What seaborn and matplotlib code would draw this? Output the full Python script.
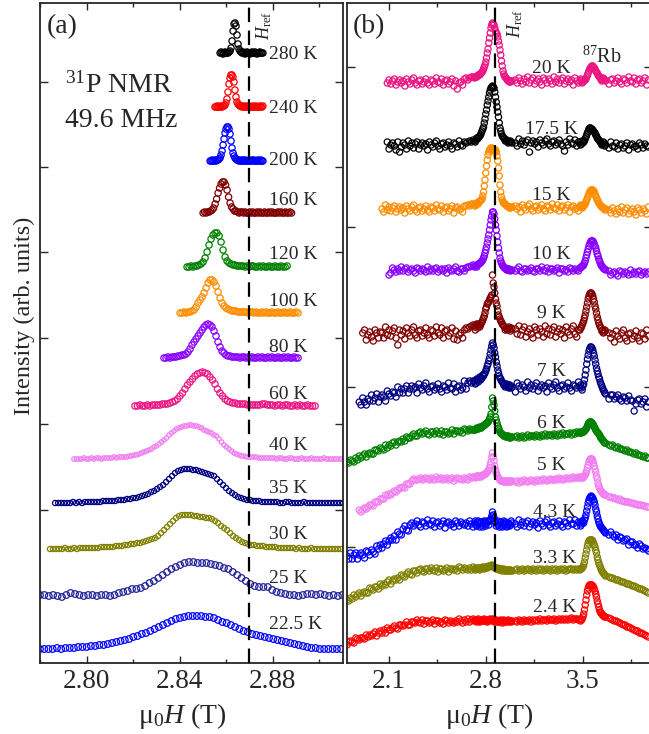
import numpy as np
import matplotlib
matplotlib.use("Agg")
import matplotlib.pyplot as plt
from matplotlib.ticker import MultipleLocator, FormatStrFormatter, FixedLocator
import seaborn as sns

# ---------------------------------------------------------------- panel (a)
# 31P NMR spectra, 49.6 MHz; field sweeps (T) and intensities (arb. units,
# baseline-subtracted).
temps_a = ["280 K", "240 K", "200 K", "160 K", "120 K", "100 K", "80 K",
           "60 K", "40 K", "35 K", "30 K", "25 K", "22.5 K"]
colors_a = ["#000000", "#FF0000", "#0000FF", "#800000", "#008000", "#FF8C00",
            "#8A00FF", "#EC1483", "#F27FF2", "#000080", "#808000", "#22229A",
            "#0000FF"]
field_start_a = [2.8574, 2.8552, 2.8531, 2.8501, 2.8432, 2.8402, 2.8333,
                 2.8208, 2.7946, 2.7865, 2.7843, 2.7800, 2.7800]
field_stop_a = [2.8758, 2.8758, 2.8758, 2.8881, 2.8862, 2.8909, 2.8909,
                2.8982, 2.9096, 2.9102, 2.9094, 2.9099, 2.9094]

a_280 = [0, 1, 0, -1, 0, 1, 0, 0, 0, 1, 2, 5, 12, 22, 29, 30, 27, 18, 9, 4,
         2, 1, 0, 1, 0, -1, 0, 1, 0, 0, -1, 0, 1, 0, 0, 1, 0, -1, 0, 0, 1,
         0, 0, 0]
a_240 = [0, 0, 1, 0, 0, 1, 0, 0, 1, 1, 2, 4, 8, 15, 23, 29, 32, 32, 30, 25,
         17, 10, 5, 3, 2, 1, 1, 0, 1, 0, 0, 1, 0, 0, 1, 0, 0, 0, 1, 0, 0, 1,
         0, 0, 0, 1, 0, 0, 1]
a_200 = [0, 0, 1, 0, 0, 1, 0, 1, 1, 2, 3, 6, 10, 16, 22, 28, 32, 34, 34, 32,
         27, 20, 13, 8, 5, 3, 2, 1, 1, 0, 1, 0, 0, 1, 0, 1, 0, 0, 0, 1, 0, 0,
         1, 0, 1, 0, 0, 0, 1, 0, 0, 1, 0, 0]
a_160 = [0, 1, 0, 1, 1, 2, 3, 5, 9, 14, 20, 25, 29, 31, 31, 28, 23, 16, 10, 6,
         4, 2, 2, 1, 0, 1, 1, 0, 1, 0, 0, 1, 0, 1, 0, 0, 1, 0, 1, 0, 0, 1, 0,
         0, 1, 0, 1, 0, 0, 0, 1, 0, 1, 0, 0, 1, 0, 0, 1, 0]
a_120 = [0, 0, 1, 0, 1, 1, 2, 3, 5, 9, 15, 22, 28, 32, 34, 34, 31, 25, 17, 10,
         6, 4, 3, 2, 2, 1, 1, 1, 1, 0, 1, 0, 1, 1, 0, 0, 1, 0, 1, 0, 0, 1, 0,
         0, 1, 0, 0, 1, 0, 0, 1]
a_100 = [0, 0, 1, 0, 1, 1, 2, 3, 6, 10, 13, 16, 20, 25, 30, 33, 33, 31, 27,
         21, 15, 10, 7, 5, 4, 3, 2, 2, 2, 1, 1, 1, 1, 1, 0, 1, 1, 0, 1, 0, 0,
         1, 0, 1, 0, 0, 1, 0, 0, 1, 0, 0, 1, 0, 0, 1, 0, 0, 1, 0]
a_80 = [0, 0, 1, 0, 1, 1, 1, 2, 2, 3, 3, 4, 6, 9, 13, 16, 19, 22, 25, 28, 31,
        33, 34, 33, 31, 27, 22, 16, 11, 7, 5, 3, 2, 2, 1, 1, 1, 1, 0, 1, 1, 0,
        1, 0, 1, 0, 0, 1, 0, 1, 0, 0, 1, 0, 1, 0, 0, 1, 0, 0, 1, 0, 1, 0, 0,
        1, 0, 0]
a_60 = [0, 0, 1, 0, 0, 1, 0, 1, 1, 1, 1, 2, 2, 2, 3, 4, 5, 7, 10, 13, 17, 21,
        24, 27, 30, 32, 33, 34, 33, 32, 29, 26, 22, 17, 13, 10, 7, 5, 4, 3, 3,
        2, 2, 2, 2, 1, 1, 1, 1, 1, 1, 2, 2, 1, 1, 1, 0, 1, 1, 0, 1, 1, 0, 0,
        1, 0, 1, 0, 0, 1, 0, 0, 0]
a_40 = [0, 0, 0, 0, 1, 0, 0, 1, 0, 1, 1, 0, 1, 1, 1, 1, 2, 1, 2, 2,
        2, 2, 3, 3, 4, 4, 5, 6, 7, 8, 9, 10, 12, 13, 15, 17, 19, 21, 24, 26,
        28, 30, 31, 32, 33, 33, 34, 34, 33, 33, 32, 31, 29, 28, 27, 26, 24,
        23, 20, 17, 14, 12, 10, 8, 6, 5, 4, 3, 3, 2, 2,
        2, 2, 2, 1, 1, 1, 1, 1, 1, 1, 0, 1, 1, 0, 0, 1, 1, 0, 0, 0, 1, 0, 0,
        0, 1, 0, 0, 0, 0, 1, 0, 0, 0, 0, 0, 0, 0]
a_35 = [0, 0, 0, 0, 0, 0, 1, 0, 1, 0, 1, 1, 1, 1, 1, 1, 2, 2, 2, 2,
        2, 3, 3, 3, 4, 4, 5, 5, 6, 7, 8, 9, 11, 12, 14, 16, 18, 21, 24, 27,
        30, 32, 33, 34, 34, 34, 33, 33, 32, 31, 30, 29, 28, 27, 24, 21, 18,
        15, 12, 10, 8, 6, 5, 4, 3, 3,
        2, 2, 2, 1, 1, 1, 1, 1, 1, 0, 0, 1, 1, 0, 0, 0, 0, 1, 0, 0, 0, 0, 0,
        0, 0, 0, 0, 0, 0, 0, 0]
a_30 = [0, 0, 0, 0, 0, 1, 0, 0, 1, 0, 1, 1, 1, 1, 1, 1, 1, 2, 2, 2,
        2, 2, 3, 3, 3, 4, 4, 5, 5, 6, 6, 7, 8, 9, 10, 11, 13, 16, 19, 22, 25,
        28, 31, 33, 34, 34, 34, 34, 33, 33, 32, 32, 31, 31, 30, 28, 26, 23,
        21, 19, 16, 13, 11, 9, 7, 6, 5, 4,
        4, 3, 3, 3, 2, 2, 2, 2, 1, 1, 1, 1, 1, 1, 0, 1, 0, 0, 0, 1, 0, 0, 0,
        0, 0, 0, 0, 0, 0, 0]
a_25 = [1, 1, 0, 1, 0, -1, 1, 3, 2, 1, 0, 1, 1, 0, 1, 1, 0, 1, 3, 4, 5, 7, 7,
        8, 10, 13, 15, 18, 21, 24, 27, 29, 31, 33, 34, 34, 33, 33, 33, 32, 31,
        30, 28, 27, 24, 21, 18, 15, 12, 10, 9, 9, 9, 6, 4, 3, 2, 1, 1, 0, 1,
        2, 2, 1, 2, 1, 0, 1, 0, 1]
a_22 = [0, 0, 0, 0, 1, 0, 1, 1, 1, 2, 2, 2, 3, 3, 4, 4, 5, 6, 7, 8, 9, 10, 12,
        13, 15, 16, 18, 20, 22, 24, 26, 28, 30, 31, 32, 33, 33, 33, 33, 32, 32,
        31, 29, 27, 26, 24, 22, 20, 18, 17, 15, 14, 13, 12, 11, 10, 9, 8, 7,
        6, 5, 4, 3, 2, 1, 1, 0, 0, 0, 0, 0, 0]
spectra_a = [a_280, a_240, a_200, a_160, a_120, a_100, a_80, a_60, a_40,
             a_35, a_30, a_25, a_22]

# ---------------------------------------------------------------- panel (b)
temps_b = ["20 K", "17.5 K", "15 K", "10 K", "9 K", "7 K", "6 K", "5 K",
           "4.3 K", "3.3 K", "2.4 K"]
colors_b = ["#EC1483", "#000000", "#FF8C00", "#8A00FF", "#800000", "#000080",
            "#008000", "#F27FF2", "#0000FF", "#808000", "#FF0000"]
# field sweep in five stretches (start, stop, points); the first stretch
# is where the sweeps begin, so shorter sweeps use only its last points
sweep_b = [(1.800, 2.710, 73), (2.720, 2.990, 51), (3.015, 3.470, 37),
           (3.480, 3.665, 35), (3.690, 3.975, 23)]

b_20 = [[0, 3, -1, 2, 4, -2, 1, 3, 0, 2, -3, 4, 1, -1, 3, 5, 0, -2, 2, 3, -1,
         1, 4, 0, -2, 3, 2, -1, 5, 1, 0, 4, -2, 2, 3, -1, 1, 4, -3, 2, -6, 0,
         1, -2, 4, 5, 3, 5, 6, 6],
        [5, 6, 6, 6, 7, 8, 8, 8, 9, 10, 11, 12, 14, 16, 18, 21, 25, 30, 34, 40,
         45, 50, 55, 58, 60, 59, 58, 55, 52, 50, 49, 46, 42, 38, 33, 28, 22,
         17, 12, 9, 7, 6, 5, 4, 3, 2, 2, 1, 1, 2, 2],
        [3, 0, 5, 2, -1, 4, 1, 6, 0, 3, 5, -1, 2, 4, 1, -2, 5, 3, 0, 4, 2, -1,
         6, 1, 4, 0, 3, 5, -1, 2, 4, 1, 3, -2, 5, 2, 0],
        [2, 4, 3, 0, 1, 2, 3, 3, 4, 6, 8, 10, 12, 14, 15, 16, 17, 17, 16, 15,
         14, 12, 11, 10, 8, 7, 6, 5, 4, 2, 3, 5, 4, 3, 2],
        [-1, 3, 4, 0, 2, 5, 1, -1, 4, 3, 0, 6, 2, 1, 5, -1, 3, 4, 0, 2, 5, -2,
         3]]
b_17 = [[5, -2, 2, 4, 1, -3, 5, -5, 0, 4, 2, -2, 6, 1, 4, -1, 3, 5, -2, 2, 4,
         1, 3, -3, 5, 2, 0, 4, 6, 1, -2, 3, 4, 0, 2, 5, 1, -2, 4, 3, 0, 6, 2,
         1, 5, 4, 5, 6, 5, 7],
        [6, 5, 7, 9, 8, 9, 10, 11, 12, 14, 16, 18, 20, 24, 28, 33, 37, 42, 46,
         50, 54, 57, 59, 60, 61, 60, 59, 55, 50, 45, 40, 35, 30, 24, 19, 16,
         13, 11, 10, 9, 8, 6, 7, 7, 6, 4, 5, 5, 6, 5, 4],
        [4, 1, 8, 3, 6, 2, 5, 7, -5, 4, 6, 3, 5, 0, 7, 4, 2, 6, 8, 3, 1, 5, 6,
         2, 4, 7, 3, 1, -4, 5, 2, 8, 4, 3, 7, 1, 5],
        [5, 2, 3, 6, 4, 5, 6, 8, 10, 12, 14, 16, 18, 19, 19, 18, 18, 17, 16,
         15, 14, 12, 11, 9, 8, 7, 6, 5, 4, 2, 3, 5, 4, 1, 2],
        [-1, 5, 1, 0, 4, -2, 2, 3, -1, 1, 4, -3, 2, 3, 0, 1, -2, 4, 2, -1, 3,
         1, 0]]
b_15 = [[1, -2, 5, 0, 3, -1, 2, 4, -2, 1, 3, 0, 2, -3, 4, 1, -1, 3, 5, 0, -2,
         2, 3, -1, 1, 4, 0, -2, 3, 2, -1, 5, 1, 0, 4, -2, 2, 3, -1, 1, 4, -3,
         2, 3, 0, 1, -2, 4, 4, 5, 4, 6, 6],
        [5, 4, 6, 7, 7, 6, 8, 9, 9, 10, 11, 14, 18, 24, 30, 37, 44, 50, 55, 58,
         60, 61, 62, 62, 61, 60, 59, 59, 60, 58, 54, 49, 42, 34, 25, 18, 13,
         10, 8, 7, 6, 6, 5, 4, 4, 3, 3, 2, 2, 3, 3],
        [4, 1, 3, -2, 5, 2, 0, 4, 6, 1, -1, 3, 4, 0, 2, 5, 1, -1, 4, 3, 0, 6,
         2, 1, 5, -1, 3, 4, 0, 2, 5, -2, 3, 4, 1, 2, -1],
        [3, 5, 4, 2, 3, 4, 5, 6, 8, 10, 12, 14, 16, 18, 19, 20, 20, 20, 19, 18,
         16, 14, 12, 10, 9, 7, 6, 5, 4, 3, 3, 2, 2, 0, 1],
        [0, -3, 2, -1, -4, 1, -2, 3, -3, 0, 2, -4, -1, 1, -2, -5, 2, 0, -3, 1,
         -1, -4, 3]]
b_10 = [[-3, -1, 4, 2, 0, 3, 1, 5, 1, 3, 4, 0, 2, 3, 1, -1, 4, 3, 1, 3, 2, 0,
         5, 1, 3, 1, 3, 4, 0, 2, 3, 1, 3, -1, 4, 2, 1, 3, 5, 1, 0, 3, 3, 1, 4,
         5, 5, 6, 7],
        [5, 6, 6, 5, 7, 8, 8, 9, 9, 10, 11, 12, 14, 16, 19, 22, 25, 29, 33, 37,
         42, 47, 52, 56, 60, 60, 58, 53, 47, 42, 36, 30, 24, 19, 14, 11, 9, 7,
         6, 5, 4, 4, 3, 2, 2, 3, 3, 2, 1, 2, 2],
        [1, 3, 5, 1, 0, 3, 3, 1, 2, 4, 1, 0, 3, 3, 1, 5, 2, 1, 4, 0, 3, 3, 1,
         2, 4, -1, 3, 3, 1, 2, 0, 4, 3, 1, 3, 2, 1],
        [4, 4, 5, 6, 6, 7, 9, 11, 14, 17, 20, 23, 26, 28, 30, 31, 31, 31, 30,
         28, 26, 24, 21, 18, 16, 13, 11, 9, 7, 6, 5, 4, 3, 3, 2],
        [1, -3, -1, 0, -2, -4, 1, 0, -2, 0, -1, -3, 2, -2, 0, -2, 0, 1, -3, -1,
         0, -2, 0]]
b_9 = [[0, 3, -7, -2, 1, -4, -8, 3, 0, -5, 1, 0, -5, 6, -2, 3, -3, 2, 5, -5,
        -12, 3, -2, 2, -6, 5, 0, -3, 3, 6, -2, -5, 2, 3, -3, 0, 5, -2, -5, 3,
        2, -3, 6, 0, -2, 5, -5, 2, 3, -3, 0, 5, -6, 2, -7, -2, 0, -5, 3, 5, 4,
        6, 7, 8],
       [6, 3, 8, 9, 5, 7, 9, 6, 8, 10, 11, 13, 15, 17, 20, 24, 26, 29, 30, 31,
        33, 35, 36, 38, 58, 50, 46, 40, 34, 30, 27, 22, 18, 16, 14, 12, 11, 9,
        8, 7, 6, 3, 5, 4, 3, 5, 6, 4, 2, 5, 4],
       [4, -1, 7, -2, 3, 6, -4, 1, 4, -1, -5, 6, 3, -2, 4, 1, -4, 7, -1, 4, -2,
        3, 6, -4, 1, 4, -1, 3, -5, 6, 1, -2, 4, 7, -1, -4, 3],
       [3, 5, 6, 8, 10, 12, 15, 18, 22, 26, 30, 34, 37, 39, 40, 40, 39, 37, 34,
        31, 27, 24, 20, 16, 13, 10, 8, 6, 5, 2, 3, 0, 1, 3, 2],
       [0, -5, -1, -9, 2, -3, -6, 0, 3, -5, -8, -1, 0, -6, -3, 2, -5, -8, 0,
        -1, -6, 3, -3]]
b_7 = [[-14, -17, -10, -14, -17, -11, -13, -7, -13, -10, -6, -14, -9, -7, -9,
        -13, -3, -6, -8, -4, -5, -9, 1, -5, -1, -5, -1, 2, -5, -1, 2, -1, 1,
        -5, 4, 0, -2, 2, 5, -1, -4, 1, 2, -2, 0, 4, -1, -4, 2, 1, -2, 5, 0,
        -1, 4, -4, 1, 2, -2, 0, 7, -1, 5, 7, 5, 7],
       [7, 4, 5, 9, 8, 6, 9, 11, 8, 10, 10, 13, 12, 14, 15, 17, 19, 22, 24, 27,
        30, 34, 38, 42, 45, 43, 40, 35, 31, 26, 22, 18, 15, 12, 10, 9, 7, 6, 5,
        3, 4, 1, 2, 4, 3, 1, 0, 3, 2, 0, 1],
       [-4, 5, 2, -1, 3, 1, -3, 6, 0, 3, -1, 2, 5, -3, 1, 3, 0, 2, -4, 5, 1,
        -1, 3, 6, 0, -3, 2, 3, -1, 1, 5, 0, -3, 3, 2, 0, 6],
       [1, 3, 0, -2, 2, 4, 8, 13, 18, 24, 29, 33, 37, 39, 41, 41, 40, 38, 35,
        32, 28, 24, 20, 17, 14, 11, 9, 6, 4, 2, 0, -2, -3, -5, -6],
       [-11, -7, -7, -11, -9, -7, -11, -13, -9, -10, -13, -8, -12, -13, -23,
        -16, -12, -11, -16, -14, -11, -19, -14]]
b_6 = [[-29, -30, -27, -28, -29, -25, -27, -23, -25, -23, -21, -24, -21, -20,
        -21, -21, -17, -17, -18, -15, -16, -17, -12, -15, -12, -13, -10, -9,
        -12, -9, -8, -9, -6, -8, -4, -5, -5, -3, -1, -3, -3, 0, 1, -1, 0, 2,
        -1, -2, 1, 1, -1, 2, 0, -1, 2, -2, 1, 1, -1, 0, 3, -1, 2, 2, 1, 2, 0,
        4, 3, 2, 4, 3, 3],
       [3, 3, 4, 5, 4, 4, 5, 6, 5, 5, 6, 7, 7, 8, 8, 9, 10, 10, 11, 12, 14, 16,
        19, 26, 35, 32, 28, 22, 16, 13, 10, 7, 5, 3, 1, 0, -1, -1, -2, -3, -3,
        -3, -4, -4, -3, -3, -4, -5, -5, -4, -4],
       [-4, -3, -5, -4, -3, -5, -4, -2, -4, -3, -3, -4, -2, -3, -4, -2, -3,
        -1, -3, -2, -2, -3, -1, -2, -3, -1, -2, 0, -2, -1, -1, 0, -2, 0, -1,
        1, 0],
       [1, 0, 0, 1, 1, 1, 2, 3, 4, 5, 7, 9, 10, 11, 11, 11, 10, 9, 8, 6, 5, 3,
        2, 1, 0, -1, -2, -4, -5, -6, -7, -8, -9, -10, -10],
       [-12, -13, -12, -14, -15, -14, -16, -16, -17, -18, -17, -19, -19, -20,
        -21, -20, -22, -22, -23, -24, -23, -25, -25]]
b_5 = [[-31, -33, -31, -29, -30, -28, -26, -26, -27, -23, -23, -23, -20, -20,
        -20, -16, -17, -15, -16, -14, -12, -13, -11, -9, -9, -8, -9, -5, -5,
        -5, -2, 0, -1, -1, 0, 1, -1, 0, 1, 0, -1, 1, 0, -1, 2, 0, 0, 1, -1,
        0, 1, -1, 0, 1, -2, 0, 1, 0, 0, -1, 1, 0, -1, 2, 1, 2],
       [2, 1, 2, 3, 3, 2, 2, 3, 3, 2, 3, 4, 4, 4, 5, 5, 6, 7, 8, 9, 11, 14, 17,
        22, 26, 22, 18, 13, 9, 6, 4, 2, 1, 0, -1, -2, -2, -2, -2, -3, -3, -2,
        -2, -3, -3, -2, -2, -3, -3, -2, -2],
       [-3, -2, -4, -2, -3, -1, -2, -3, -2, -1, -2, -3, -1, -2, -1, -2, 0, -1,
        -2, -1, 0, -1, -1, 0, -1, 1, 0, -1, 0, 1, 0, 1, 0, 2, 1, 1, 2],
       [1, 1, 2, 2, 1, 2, 3, 4, 6, 8, 11, 14, 17, 19, 20, 20, 20, 18, 16, 13,
        10, 7, 3, 0, -4, -7, -9, -11, -12, -13, -14, -15, -15, -16, -16],
       [-18, -18, -19, -19, -20, -21, -20, -22, -22, -23, -23, -23, -24, -24,
        -25, -25, -26, -26, -26, -27, -27, -28, -28]]
b_4 = [[-32, -35, -29, -35, -31, -29, -35, -31, -29, -31, -34, -27, -28, -31,
        -26, -28, -30, -22, -25, -21, -24, -20, -17, -21, -17, -14, -16, -12,
        -16, -8, -10, -11, -5, -2, -6, -7, -1, 1, -2, 0, 3, -1, -3, 2, 1, -2,
        4, 0, -1, 3, -3, 1, 2, -2, 0, 3, -4, 1, 2, -1, 0, -3, 3, 1, -2, 2, 0,
        -1, 1, -2, 3, 0, -3],
       [1, 3, -1, -2, 2, 3, 0, -3, 1, 2, -1, -3, 2, 3, 0, -2, 1, 3, 2, -1, 3,
        4, 5, 8, 12, 9, 6, 3, 2, -2, 0, 3, -1, -3, 1, 2, -2, -3, 0, 3, -1, 2,
        1, -3, -2, 1, 0, -2, -1, 3, 1],
       [0, -3, 4, -1, 2, -2, 1, 3, -3, 0, 2, -1, 1, -4, 3, 0, -2, 2, 4, -1,
        -3, 1, 2, -2, 0, 3, -1, -3, 2, 1, -2, 4, 0, 0, 4, -2, 2],
       [1, -2, 0, 3, 2, 1, 4, 6, 9, 13, 17, 21, 24, 26, 27, 28, 27, 26, 24, 22,
        19, 15, 12, 8, 5, 2, 0, -2, -3, -4, -5, -6, -7, -8, -9],
       [-11, -8, -11, -13, -11, -16, -13, -14, -17, -16, -15, -21, -18, -18,
        -21, -21, -24, -20, -22, -25, -24, -25, -27]]
b_3 = [[-30, -31, -28, -29, -25, -27, -25, -23, -26, -23, -22, -23, -23, -18,
        -19, -20, -17, -17, -19, -14, -16, -14, -15, -12, -10, -14, -11, -9,
        -10, -8, -10, -5, -6, -7, -4, -2, -4, -5, -1, -1, -3, 0, 1, -1, -2, 1,
        1, -1, 2, 0, -1, 2, -2, 1, 1, -1, 0, 2, -2, 1, 1, 0, 1, -1, 3, 2, 0,
        2, 1, 0, 2, 0, 3],
       [1, 0, 2, 1, 1, 2, 2, 0, 1, 2, 2, 3, 2, 1, 2, 3, 3, 2, 3, 4, 3, 4, 4, 5,
        4, 4, 3, 2, 2, 1, 1, 2, 1, 0, 0, 1, 1, -1, 0, 1, 0, -1, -1, 0, 0, -1,
        -1, 0, 0, -1, -1],
       [0, 1, -1, 0, 1, -1, 0, 1, 0, -1, 1, 0, -1, 1, 0, 1, -1, 0, 1, 0, -1,
        1, 0, 1, -1, 0, 1, 0, 1, -1, 0, 1, 1, 0, 1, 0, 1],
       [0, 1, 1, 2, 3, 5, 8, 12, 16, 20, 24, 27, 29, 30, 30, 30, 30, 29, 27,
        25, 23, 20, 17, 13, 10, 7, 5, 3, 1, -1, -2, -3, -4, -5, -6],
       [-7, -8, -8, -9, -10, -10, -11, -12, -12, -13, -14, -14, -15, -16, -16,
        -17, -18, -19, -19, -20, -21, -22, -23]]
b_2 = [[-23, -20, -19, -20, -21, -16, -17, -18, -16, -16, -17, -13, -15, -13,
        -14, -12, -10, -14, -11, -9, -11, -8, -11, -6, -8, -8, -6, -4, -6, -7,
        -3, -3, -4, -3, 0, -3, -3, 0, 0, -1, 2, 0, -1, 2, -2, 1, 1, -1, 0, 2,
        -2, 1, 1, -1, 0, -2, 2, 1, -1, 1, 0, -1, 1, 0, 3, 1, -1, 2, 0, 3, 0,
        2, 3],
       [1, 2, 1, 0, 2, 3, 1, 0, 1, 2, 2, 1, 1, 3, 2, 1, 2, 0, 1, 2, 2, 3, 2, 1,
        2, 3, 1, 0, 1, 2, 1, 0, 0, 1, 1, 2, 0, -1, 1, 2, 1, 0, 0, 1, 1, 2, 0,
        1, 1, 0, 1],
       [1, 0, 2, 1, 0, 2, 1, 1, 2, 0, 2, 1, 2, 1, 3, 1, 2, 2, 1, 3, 2, 2, 3, 1,
        2, 3, 2, 3, 2, 3, 2, 3, 4, 2, 3, 3, 2],
       [3, 1, 2, 3, 5, 8, 12, 17, 22, 27, 31, 34, 36, 37, 37, 37, 37, 36, 35,
        33, 31, 28, 25, 21, 18, 15, 12, 10, 9, 8, 7, 6, 6, 5, 5],
       [4, 3, 2, 1, 1, 0, -1, -2, -3, -3, -5, -5, -6, -7, -8, -9, -9, -11, -11,
        -12, -13, -14, -15]]
spectra_b = [b_20, b_17, b_15, b_10, b_9, b_7, b_6, b_5, b_4, b_3, b_2]

h_ref = 2.87  # reference field (T)

# ---------------------------------------------------------------- layout
# vertical stacking of the spectra and label placement (axis units)
offsets_a = [610, 556, 502, 450, 396, 350, 305, 257, 204, 160, 114, 67, 14]
marker_px_a = [6.3, 6.3, 6.3, 6.3, 6.3, 6.3, 6.3, 6.3, 4.4, 5.2, 5.2, 6.6, 6.6]
label_y_a = [604, 550, 498, 458, 404, 357, 311, 264, 213, 170, 124, 80, 34]
offsets_b = [580, 516, 453, 391, 330, 275, 230, 184, 139, 93, 41]
label_y_b = [590, 529, 463, 404, 345, 287, 235, 193, 146, 100, 51]
label_x_b = [3.272, 3.272, 3.272, 3.272, 3.272, 3.272, 3.272, 3.272, 3.30,
             3.30, 3.30]

sns.set_style("ticks")
plt.rcParams["font.family"] = ["Liberation Serif", "DejaVu Serif"]
plt.rcParams["mathtext.fontset"] = "custom"
plt.rcParams["mathtext.rm"] = "Liberation Serif"
plt.rcParams["mathtext.it"] = "Liberation Serif:italic"
plt.rcParams["mathtext.bf"] = "Liberation Serif:bold"
plt.rcParams["axes.linewidth"] = 1.3

W, H = 649, 734
fig = plt.figure(figsize=(W / 100, H / 100), dpi=100)
ax_a = fig.add_axes([40 / W, 71 / H, 302.5 / W, 660 / H])
ax_b = fig.add_axes([347 / W, 71 / H, 305 / W, 660 / H])


def draw(ax, x, y, color, px, lw=0.9):
    size = (px * 0.72) ** 2
    sns.scatterplot(x=x, y=y, ax=ax, marker="o", s=size, facecolor="none",
                    edgecolor=color, linewidth=lw, legend=False)


for vals, x0, x1, off, col, px in zip(spectra_a, field_start_a, field_stop_a,
                                      offsets_a, colors_a, marker_px_a):
    x = np.linspace(x0, x1, len(vals))
    draw(ax_a, x, np.asarray(vals, float) + off, col, px)

for segs, off, col in zip(spectra_b, offsets_b, colors_b):
    xs, ys = [], []
    for k, (seg, (lo, hi, n)) in enumerate(zip(segs, sweep_b)):
        if k == 0:
            x = np.linspace(lo, hi, n)[-len(seg):]
        else:
            x = np.linspace(lo, hi, len(seg))
        xs.append(x)
        ys.append(np.asarray(seg, float) + off)
    draw(ax_b, np.concatenate(xs), np.concatenate(ys), col, 6.2, lw=0.9)

for ax in (ax_a, ax_b):
    ax.axvline(h_ref, color="black", lw=1.6, dashes=(6.5, 3.8), zorder=3)
    ax.set_ylim(0, 660)
    ax.set_ylabel("")
    ax.tick_params(axis="both", which="both", direction="in", top=True,
                   right=True, labelsize=19.5, width=1.0, pad=4)
    ax.tick_params(axis="x", which="major", length=5)
    ax.tick_params(axis="x", which="minor", length=2.6)
    ax.tick_params(axis="y", which="major", length=5.5, labelleft=False)
    ax.yaxis.set_minor_locator(FixedLocator([]))

ax_a.set_xlim(2.78, 2.91)
ax_a.xaxis.set_major_locator(MultipleLocator(0.04))
ax_a.xaxis.set_minor_locator(MultipleLocator(0.02))
ax_a.xaxis.set_major_formatter(FormatStrFormatter("%.2f"))
ax_a.yaxis.set_major_locator(FixedLocator([153, 239, 325, 411, 496, 581]))

ax_b.set_xlim(1.8, 4.0)
ax_b.xaxis.set_major_locator(MultipleLocator(0.7))
ax_b.xaxis.set_minor_locator(MultipleLocator(0.35))
ax_b.xaxis.set_major_formatter(FormatStrFormatter("%.1f"))
ax_b.yaxis.set_major_locator(FixedLocator([116, 276, 436, 596]))

for ax, xc in ((ax_a, 0.469), (ax_b, 0.466)):
    ax.set_xlabel("μ$_0$$H$ (T)", fontsize=20)
    ax.xaxis.set_label_coords(xc, -0.057)

ax_a.set_ylabel("Intensity (arb. units)", fontsize=17.5)
ax_a.yaxis.set_label_coords(-0.017, 0.526)

# temperature labels
for t, y in zip(temps_a, label_y_a):
    ax_a.text(2.8784, y, t, fontsize=14, ha="left", va="baseline")
for t, x, y in zip(temps_b, label_x_b, label_y_b):
    ax_b.text(x, y, t, fontsize=14, ha="center", va="baseline")

ax_a.text(0.023, 0.9545, "(a)", transform=ax_a.transAxes, fontsize=20,
          va="baseline")
ax_b.text(0.020, 0.9545, "(b)", transform=ax_b.transAxes, fontsize=20,
          va="baseline")
ax_a.text(0.083, 0.865, "$^{31}$P NMR", transform=ax_a.transAxes,
          fontsize=20, va="baseline")
ax_a.text(0.083, 0.812, "49.6 MHz", transform=ax_a.transAxes, fontsize=20,
          va="baseline")

ax_a.text(2.872, 623, r"$H_{\mathrm{ref}}$", rotation=90, fontsize=13,
          ha="left", va="bottom")
ax_b.text(2.94, 625, r"$H_{\mathrm{ref}}$", rotation=90, fontsize=13,
          ha="left", va="bottom")
ax_b.text(3.496, 600, "$^{87}$Rb", fontsize=14.5, ha="left", va="baseline")

fig.savefig("out.png", dpi=100)
